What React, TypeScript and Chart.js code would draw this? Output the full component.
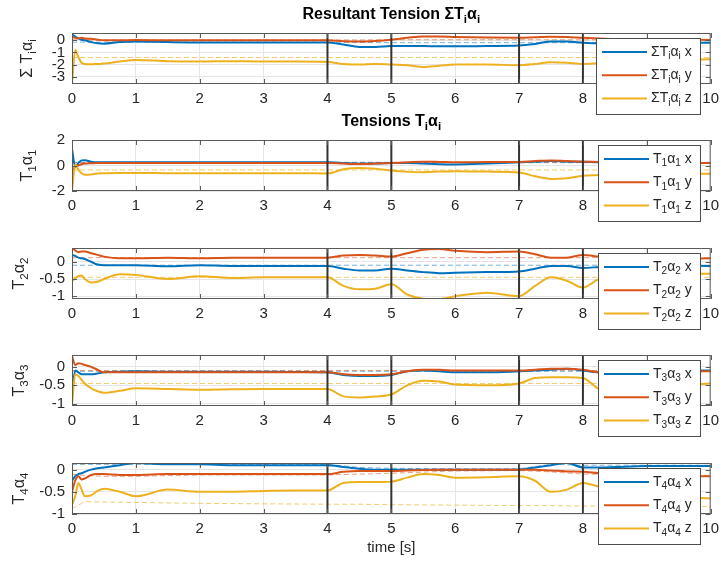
import React, { useEffect, useRef } from "react";
import { Chart, registerables } from "chart.js";

Chart.register(...registerables);

// ---------------- data ----------------
const time = [0, 0.05, 0.1, 0.15, 0.2, 0.3, 0.4, 0.5, 0.75, 1, 1.5, 2, 2.5, 3, 3.5, 4, 4.25, 4.5, 4.75, 5, 5.25, 5.5, 5.75, 6, 6.5, 7, 7.25, 7.5, 7.75, 8, 8.25, 8.5, 9, 9.5, 10];
const refTime = [0, 0.1, 0.2, 0.5, 1, 2, 3, 4, 4.5, 5, 6, 7, 7.5, 8, 9, 10];
const switchTimes = [4, 5, 7, 8];

// Resultant tension
const sumX = [0.5, 0.3, 0.15, 0.05, 0.0, -0.15, -0.25, -0.28, -0.15, -0.1, -0.15, -0.18, -0.18, -0.18, -0.18, -0.18, -0.35, -0.55, -0.55, -0.47, -0.48, -0.48, -0.5, -0.5, -0.47, -0.43, -0.3, -0.1, -0.1, -0.2, -0.25, -0.25, -0.2, -0.2, -0.2];
const sumY = [0.3, 0.2, 0.15, 0.2, 0.15, 0.12, 0.05, 0.0, 0.0, 0.02, 0.0, 0.0, 0.0, 0.0, 0.0, 0.0, -0.08, -0.1, -0.05, 0.05, 0.2, 0.32, 0.32, 0.28, 0.22, 0.2, 0.25, 0.3, 0.28, 0.2, 0.15, 0.1, 0.08, 0.05, 0.03];
const sumZ = [-3.6, -0.8, -1.4, -1.85, -1.95, -1.97, -1.95, -1.92, -1.75, -1.62, -1.72, -1.75, -1.72, -1.75, -1.75, -1.78, -1.95, -2.0, -1.95, -2.0, -2.05, -2.2, -2.1, -2.0, -2.0, -2.05, -1.95, -1.8, -1.85, -1.95, -1.9, -1.8, -1.7, -1.6, -1.57];
const sumRefX = [-0.15, -0.15, -0.15, -0.15, -0.15, -0.15, -0.15, -0.15, -0.18, -0.2, -0.2, -0.2, -0.2, -0.2, -0.18, -0.15];
const sumRefY = [0.05, 0.03, 0.02, 0.02, 0.02, 0.02, 0.02, 0.02, 0.03, 0.05, 0.05, 0.05, 0.05, 0.04, 0.03, 0.03];
const sumRefZ = [-1.42, -1.42, -1.42, -1.42, -1.42, -1.42, -1.42, -1.42, -1.42, -1.42, -1.42, -1.42, -1.42, -1.42, -1.42, -1.42];

// Tension 1
const t1X = [1.3, -0.1, 0.2, 0.4, 0.42, 0.3, 0.25, 0.25, 0.25, 0.25, 0.25, 0.25, 0.25, 0.25, 0.25, 0.25, 0.2, 0.15, 0.15, 0.2, 0.2, 0.15, 0.1, 0.08, 0.15, 0.25, 0.3, 0.35, 0.3, 0.3, 0.25, 0.22, 0.2, 0.2, 0.2];
const t1Y = [-0.45, -0.1, 0.0, 0.1, 0.15, 0.18, 0.2, 0.2, 0.2, 0.2, 0.2, 0.2, 0.2, 0.2, 0.2, 0.2, 0.15, 0.12, 0.15, 0.2, 0.25, 0.3, 0.28, 0.25, 0.27, 0.28, 0.35, 0.4, 0.35, 0.3, 0.28, 0.25, 0.22, 0.2, 0.2];
const t1Z = [-2.0, 0.05, -0.35, -0.6, -0.72, -0.7, -0.62, -0.6, -0.58, -0.58, -0.6, -0.6, -0.6, -0.6, -0.6, -0.62, -0.3, -0.2, -0.25, -0.4, -0.5, -0.52, -0.48, -0.45, -0.48, -0.55, -0.85, -1.05, -1.0, -0.8, -0.75, -0.7, -0.68, -0.65, -0.65];
const t1RefX = [0.25, 0.25, 0.25, 0.25, 0.25, 0.25, 0.25, 0.25, 0.25, 0.25, 0.25, 0.25, 0.25, 0.25, 0.25, 0.25];
const t1RefY = [0.22, 0.22, 0.22, 0.22, 0.22, 0.22, 0.22, 0.22, 0.22, 0.22, 0.22, 0.22, 0.22, 0.22, 0.22, 0.22];
const t1RefZ = [-0.35, -0.35, -0.35, -0.35, -0.35, -0.35, -0.35, -0.35, -0.35, -0.35, -0.35, -0.35, -0.35, -0.35, -0.35, -0.35];

// Tension 2
const t2X = [0.2, 0.17, 0.12, 0.1, 0.08, 0.0, -0.08, -0.1, -0.1, -0.1, -0.13, -0.1, -0.12, -0.12, -0.12, -0.12, -0.2, -0.25, -0.25, -0.2, -0.25, -0.3, -0.33, -0.32, -0.3, -0.28, -0.2, -0.12, -0.12, -0.18, -0.15, -0.12, -0.1, -0.1, -0.12];
const t2Y = [0.4, 0.33, 0.28, 0.3, 0.3, 0.25, 0.2, 0.15, 0.1, 0.1, 0.12, 0.1, 0.12, 0.12, 0.12, 0.12, 0.18, 0.2, 0.18, 0.15, 0.25, 0.35, 0.37, 0.32, 0.28, 0.3, 0.22, 0.12, 0.12, 0.2, 0.15, 0.1, 0.08, 0.08, 0.1];
const t2Z = [-0.55, -0.48, -0.42, -0.4, -0.5, -0.6, -0.58, -0.5, -0.36, -0.38, -0.5, -0.42, -0.47, -0.45, -0.45, -0.45, -0.7, -0.8, -0.78, -0.65, -0.95, -1.07, -1.08, -1.0, -0.9, -1.0, -0.7, -0.45, -0.55, -0.75, -0.5, -0.4, -0.35, -0.35, -0.35];
const t2RefX = [-0.1, -0.1, -0.1, -0.1, -0.1, -0.1, -0.1, -0.1, -0.1, -0.1, -0.1, -0.1, -0.1, -0.1, -0.1, -0.1];
const t2RefY = [0.12, 0.12, 0.12, 0.12, 0.12, 0.12, 0.12, 0.12, 0.12, 0.12, 0.12, 0.12, 0.12, 0.12, 0.12, 0.12];
const t2RefZ = [-0.45, -0.45, -0.45, -0.45, -0.45, -0.45, -0.45, -0.45, -0.45, -0.45, -0.45, -0.45, -0.45, -0.45, -0.45, -0.45];

// Tension 3
const t3X = [-0.7, -0.1, -0.15, -0.2, -0.2, -0.2, -0.18, -0.15, -0.13, -0.12, -0.13, -0.13, -0.13, -0.13, -0.14, -0.15, -0.22, -0.25, -0.25, -0.22, -0.12, -0.1, -0.12, -0.15, -0.15, -0.12, -0.1, -0.08, -0.05, -0.1, -0.15, -0.15, -0.12, -0.1, -0.1];
const t3Y = [0.3, 0.05, 0.1, 0.08, 0.05, 0.0, -0.08, -0.15, -0.15, -0.15, -0.15, -0.15, -0.15, -0.15, -0.15, -0.15, -0.2, -0.22, -0.22, -0.2, -0.12, -0.08, -0.08, -0.1, -0.1, -0.1, -0.08, -0.05, -0.05, -0.08, -0.15, -0.2, -0.15, -0.12, -0.12];
const t3Z = [-1.05, -0.2, -0.25, -0.35, -0.45, -0.58, -0.66, -0.7, -0.65, -0.58, -0.6, -0.62, -0.61, -0.6, -0.6, -0.6, -0.8, -0.83, -0.8, -0.75, -0.5, -0.38, -0.4, -0.48, -0.5, -0.45, -0.3, -0.28, -0.28, -0.3, -0.6, -0.65, -0.55, -0.5, -0.45];
const t3RefX = [-0.12, -0.12, -0.12, -0.12, -0.12, -0.12, -0.12, -0.12, -0.12, -0.12, -0.12, -0.12, -0.12, -0.12, -0.12, -0.12];
const t3RefY = [-0.1, -0.1, -0.1, -0.1, -0.1, -0.1, -0.1, -0.1, -0.1, -0.1, -0.1, -0.1, -0.1, -0.1, -0.1, -0.1];
const t3RefZ = [-0.45, -0.45, -0.45, -0.45, -0.45, -0.45, -0.45, -0.45, -0.45, -0.45, -0.45, -0.45, -0.45, -0.45, -0.45, -0.45];

// Tension 4
const t4X = [-0.25, -0.15, -0.1, -0.08, -0.05, 0.0, 0.03, 0.05, 0.1, 0.15, 0.12, 0.12, 0.1, 0.1, 0.1, 0.1, 0.06, 0.02, 0.0, 0.0, 0.0, 0.0, 0.0, 0.0, 0.0, 0.0, 0.05, 0.1, 0.15, 0.05, 0.05, 0.06, 0.08, 0.08, 0.08];
const t4Y = [-0.5, -0.25, -0.15, -0.22, -0.2, -0.12, -0.1, -0.1, -0.12, -0.12, -0.1, -0.1, -0.1, -0.1, -0.1, -0.1, -0.05, -0.03, -0.03, -0.03, -0.02, -0.01, 0.0, 0.0, 0.0, 0.0, 0.0, -0.02, -0.04, -0.05, -0.08, -0.1, -0.12, -0.14, -0.15];
const t4Z = [-0.8, -0.6, -0.3, -0.45, -0.6, -0.58, -0.48, -0.43, -0.5, -0.6, -0.45, -0.5, -0.5, -0.48, -0.47, -0.47, -0.3, -0.28, -0.28, -0.27, -0.18, -0.1, -0.12, -0.18, -0.17, -0.15, -0.25, -0.5, -0.45, -0.3, -0.38, -0.45, -0.55, -0.62, -0.65];
const t4RefX = [0.12, 0.12, 0.12, 0.12, 0.12, 0.12, 0.12, 0.12, 0.05, 0.03, 0.02, 0.02, 0.12, 0.1, 0.1, 0.1];
const t4RefY = [-0.1, -0.12, -0.13, -0.15, -0.15, -0.12, -0.12, -0.12, -0.1, -0.08, -0.03, -0.02, -0.05, -0.1, -0.12, -0.13];
const t4RefZ = [-0.88, -0.8, -0.72, -0.73, -0.74, -0.76, -0.77, -0.78, -0.78, -0.79, -0.8, -0.81, -0.81, -0.82, -0.83, -0.83];

// text (underscore marks a one-character subscript)
const panelTitles = ["Resultant Tension ΣT_iα_i", "Tensions T_iα_i", "", "", ""];
const yLabels = ["Σ T_iα_i", "T_1α_1", "T_2α_2", "T_3α_3", "T_4α_4"];
const legendLabels = [
  ["ΣT_iα_i x", "ΣT_iα_i y", "ΣT_iα_i z"],
  ["T_1α_1 x", "T_1α_1 y", "T_1α_1 z"],
  ["T_2α_2 x", "T_2α_2 y", "T_2α_2 z"],
  ["T_3α_3 x", "T_3α_3 y", "T_3α_3 z"],
  ["T_4α_4 x", "T_4α_4 y", "T_4α_4 z"],
];
const xLabel = "time [s]";
const yLimits = [[-3.6, 0.6], [-2, 2], [-1.08, 0.4], [-1.06, 0.32], [-1, 0.15]];
const yTicks = [[-3, -2, -1, 0], [-2, 0, 2], [-1, -0.5, 0], [-1, -0.5, 0], [-1, -0.5, 0]];

const solidSeries = [[sumX, sumY, sumZ], [t1X, t1Y, t1Z], [t2X, t2Y, t2Z], [t3X, t3Y, t3Z], [t4X, t4Y, t4Z]];
const refSeries = [[sumRefX, sumRefY, sumRefZ], [t1RefX, t1RefY, t1RefZ], [t2RefX, t2RefY, t2RefZ], [t3RefX, t3RefY, t3RefZ], [t4RefX, t4RefY, t4RefZ]];

// ---------------- styling / layout ----------------
const FONT = "'Liberation Sans', Arial, Helvetica, sans-serif";
const TEXT = "#262626";
const COLORS = ["#0072BD", "#D95319", "#EDB120"];
const REF_COLORS = ["rgba(0,114,189,0.55)", "rgba(217,83,25,0.55)", "rgba(237,177,32,0.65)"];
const PAGE_W = 725;
const PAGE_H = 563;
const AXIS_LEFT = 72;
const AXIS_RIGHT = 714;
const PLOT_TOPS = [33, 140, 248, 355, 463];
const PLOT_H = 51;
const PAD_TOP = 32;
const Y_LABEL_X = [28, 28, 20, 20, 20];

type Seg = { t: string; sub: boolean };
function parseRich(s: string): Seg[] {
  const out: Seg[] = [];
  let buf = "";
  let i = 0;
  while (i < s.length) {
    const c = s[i];
    if (c === "_" && i + 1 < s.length) {
      if (buf) { out.push({ t: buf, sub: false }); buf = ""; }
      out.push({ t: s[i + 1], sub: true });
      i += 2;
    } else { buf += c; i += 1; }
  }
  if (buf) out.push({ t: buf, sub: false });
  return out;
}
function fontStr(size: number, bold: boolean) {
  return `${bold ? "bold " : ""}${size}px ${FONT}`;
}
function richWidth(ctx: CanvasRenderingContext2D, s: string, size: number, bold: boolean) {
  let w = 0;
  for (const seg of parseRich(s)) {
    ctx.font = fontStr(seg.sub ? size * 0.72 : size, bold);
    w += ctx.measureText(seg.t).width;
  }
  return w;
}
function drawRich(ctx: CanvasRenderingContext2D, s: string, x: number, y: number, size: number, bold: boolean, align: string) {
  const w = richWidth(ctx, s, size, bold);
  let cx = align === "center" ? x - w / 2 : align === "right" ? x - w : x;
  ctx.textBaseline = "middle";
  ctx.textAlign = "left";
  for (const seg of parseRich(s)) {
    ctx.font = fontStr(seg.sub ? size * 0.72 : size, bold);
    ctx.fillText(seg.t, cx, seg.sub ? y + size * 0.32 : y);
    cx += ctx.measureText(seg.t).width;
  }
}

function Panel({ index }: { index: number }) {
  const ref = useRef<HTMLCanvasElement | null>(null);
  const top = PLOT_TOPS[index] - PAD_TOP;
  const isLast = index === 4;
  const height = isLast ? PAGE_H - top : PAD_TOP + PLOT_H + 60;
  const xAxisH = height - PAD_TOP - PLOT_H;

  useEffect(() => {
    const canvas = ref.current;
    if (!canvas) return;
    const names = ["x", "y", "z"];
    const solids = solidSeries[index].map((vals, k) => ({
      label: names[k],
      data: time.map((t, i) => ({ x: t, y: vals[i] })),
      borderColor: COLORS[k],
      borderWidth: 2,
      pointRadius: 0,
      fill: false,
      cubicInterpolationMode: "monotone" as const,
      order: 2 - k,
    }));
    const refs = refSeries[index].map((vals, k) => ({
      label: "ref " + names[k],
      data: refTime.map((t, i) => ({ x: t, y: vals[i] })),
      borderColor: REF_COLORS[k],
      borderWidth: 1,
      borderDash: [5, 3],
      pointRadius: 0,
      fill: false,
      tension: 0,
      order: 5 - k,
    }));

    const decor = {
      id: "decor",
      afterDatasetsDraw(chart: any) {
        const ctx: CanvasRenderingContext2D = chart.ctx;
        const ca = chart.chartArea;
        const xs = chart.scales.x;
        const ys = chart.scales.y;
        ctx.save();
        ctx.strokeStyle = "#333333";
        ctx.lineWidth = 2;
        for (const t of switchTimes) {
          const px = xs.getPixelForValue(t);
          ctx.beginPath();
          ctx.moveTo(px, ca.top);
          ctx.lineTo(px, ca.bottom);
          ctx.stroke();
        }
        ctx.strokeStyle = "#5a5a5a";
        ctx.lineWidth = 1;
        ctx.strokeRect(ca.left + 0.5, ca.top + 0.5, ca.right - ca.left - 1, ca.bottom - ca.top - 1);
        ctx.beginPath();
        for (const tk of xs.ticks) {
          const px = Math.round(xs.getPixelForValue(tk.value)) + 0.5;
          ctx.moveTo(px, ca.bottom);
          ctx.lineTo(px, ca.bottom - 5);
          ctx.moveTo(px, ca.top);
          ctx.lineTo(px, ca.top + 5);
        }
        for (const tk of ys.ticks) {
          const py = Math.round(ys.getPixelForValue(tk.value)) + 0.5;
          ctx.moveTo(ca.left, py);
          ctx.lineTo(ca.left + 5, py);
          ctx.moveTo(ca.right, py);
          ctx.lineTo(ca.right - 5, py);
        }
        ctx.stroke();
        ctx.restore();
      },
      afterDraw(chart: any) {
        const ctx: CanvasRenderingContext2D = chart.ctx;
        const ca = chart.chartArea;
        ctx.save();
        ctx.fillStyle = "#000000";
        if (panelTitles[index]) {
          drawRich(ctx, panelTitles[index], (ca.left + ca.right) / 2, ca.top - 18, 16, true, "center");
        }
        ctx.fillStyle = TEXT;
        ctx.save();
        ctx.translate(Y_LABEL_X[index], (ca.top + ca.bottom) / 2);
        ctx.rotate(-Math.PI / 2);
        drawRich(ctx, yLabels[index], 0, 0, 16, false, "center");
        ctx.restore();
        if (isLast) {
          ctx.fillStyle = TEXT;
          drawRich(ctx, xLabel, (ca.left + ca.right) / 2, ca.bottom + 34, 15, false, "center");
        }
        const labels = legendLabels[index];
        const size = 14;
        let maxW = 0;
        for (const l of labels) maxW = Math.max(maxW, richWidth(ctx, l, size, false));
        const lw = Math.round(55 + maxW + 8);
        const lh = 76;
        const right = ca.right - 11;
        const left = Math.round(right - lw);
        const ltop = Math.round(ca.top + 5);
        ctx.fillStyle = "#ffffff";
        ctx.fillRect(left, ltop, lw, lh);
        ctx.strokeStyle = "#4d4d4d";
        ctx.lineWidth = 1;
        ctx.strokeRect(left + 0.5, ltop + 0.5, lw, lh);
        labels.forEach((l, k) => {
          const y = ltop + 14 + k * 23.3;
          ctx.strokeStyle = COLORS[k];
          ctx.lineWidth = 2;
          ctx.beginPath();
          ctx.moveTo(left + 6, y);
          ctx.lineTo(left + 51, y);
          ctx.stroke();
          ctx.fillStyle = TEXT;
          drawRich(ctx, l, left + 55, y, size, false, "left");
        });
        ctx.restore();
      },
    };

    const chart = new Chart(canvas, {
      type: "line",
      data: { datasets: [...solids, ...refs] as any },
      options: {
        animation: false,
        responsive: false,
        maintainAspectRatio: false,
        layout: { padding: { top: PAD_TOP, left: 0, right: PAGE_W - AXIS_RIGHT, bottom: 0 } },
        plugins: { legend: { display: false }, title: { display: false }, tooltip: { enabled: false } },
        elements: { point: { radius: 0 } },
        scales: {
          x: {
            type: "linear",
            min: 0,
            max: 10,
            afterFit: (s: any) => { s.height = xAxisH; },
            ticks: { stepSize: 1, padding: 6, color: TEXT, font: { family: FONT, size: 15 }, autoSkip: false, maxRotation: 0, callback: (v: any) => String(v) },
            grid: { color: "#e6e6e6", drawTicks: false },
            border: { display: false },
          },
          y: {
            type: "linear",
            min: yLimits[index][0],
            max: yLimits[index][1],
            afterFit: (s: any) => { s.width = AXIS_LEFT; },
            afterBuildTicks: (s: any) => { s.ticks = yTicks[index].map((v) => ({ value: v })); },
            ticks: { padding: 7, autoSkip: false, color: TEXT, font: { family: FONT, size: 15 }, callback: (v: any) => String(v) },
            grid: { color: "#e6e6e6", drawTicks: false },
            border: { display: false },
          },
        },
      } as any,
      plugins: [decor],
    });
    return () => chart.destroy();
  }, [index]);

  return (
    <canvas
      ref={ref}
      width={PAGE_W}
      height={height}
      style={{ position: "absolute", left: 0, top, width: PAGE_W, height }}
    />
  );
}

export default function App() {
  return (
    <div style={{ position: "absolute", left: 0, top: 0, width: PAGE_W, height: PAGE_H, background: "#ffffff" }}>
      {[0, 1, 2, 3, 4].map((i) => (
        <Panel key={i} index={i} />
      ))}
    </div>
  );
}
